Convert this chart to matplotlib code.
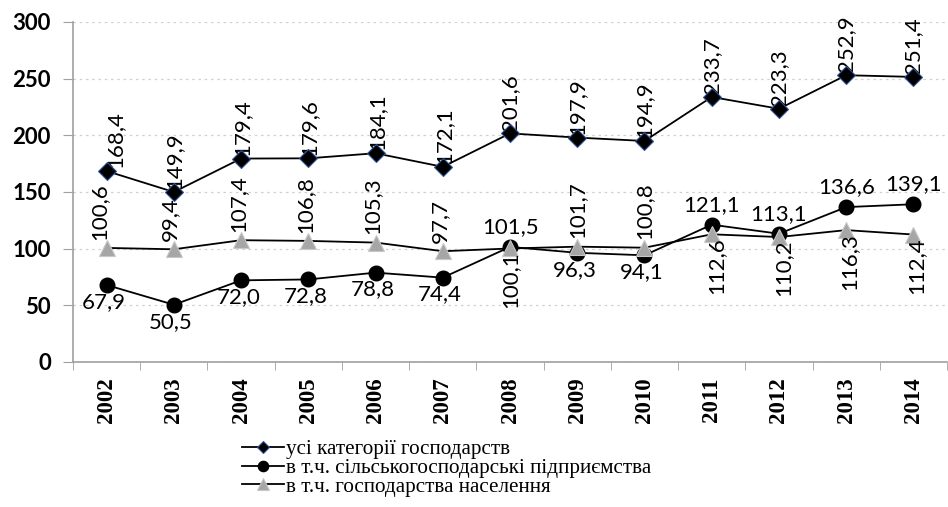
import numpy as np
import matplotlib.pyplot as plt
from matplotlib.ticker import MultipleLocator

# Дані з графіка
roky = ["2002", "2003", "2004", "2005", "2006", "2007", "2008",
        "2009", "2010", "2011", "2012", "2013", "2014"]
usi_kategorii = [168.4, 149.9, 179.4, 179.6, 184.1, 172.1, 201.6,
                 197.9, 194.9, 233.7, 223.3, 252.9, 251.4]
silhosp_pidpr = [67.9, 50.5, 72.0, 72.8, 78.8, 74.4, 101.5,
                 96.3, 94.1, 121.1, 113.1, 136.6, 139.1]
hosp_naselennia = [100.6, 99.4, 107.4, 106.8, 105.3, 97.7, 100.1,
                   101.7, 100.8, 112.6, 110.2, 116.3, 112.4]

nazvy = ["усі категорії господарств",
         "в т.ч. сільськогосподарські підприємства",
         "в т.ч. господарства населення"]

# Де стоять підписи: 1 - над точкою, -1 - під точкою
poz_pidpr = [-1, -1, -1, -1, -1, -1, 1, -1, -1, 1, 1, 1, 1]
poz_nasel = [1, 1, 1, 1, 1, 1, -1, 1, 1, -1, -1, -1, -1]
zsuv_x_usi = [6, 0, 1, 1, 1, 1, 0, 0, 0, 0, 0, 0, 0]
zsuv_x_nasel = [-5, -3, -2, -2, -2, -2, 0, 0, 0, 3, 3, 2, 2]

x = np.arange(len(roky))

def komu(v):
    return f"{v:.1f}".replace(".", ",")

fig = plt.figure(figsize=(9.48, 5.07), dpi=100)
ax = fig.add_axes([0.077, 0.286, 0.922, 0.671])

ax.plot(x, usi_kategorii, color="black", lw=1.3, marker="D", ms=9,
        mfc="black", mec="#2f5597", mew=0.8, label=nazvy[0], zorder=4)
ax.plot(x, silhosp_pidpr, color="black", lw=1.3, marker="o", ms=10.5,
        mfc="black", mec="black", label=nazvy[1], zorder=3)
ax.plot(x, hosp_naselennia, color="black", lw=1.3, marker="^", ms=11.5,
        mfc="#a6a6a6", mec="#c8c8c8", mew=0.8, label=nazvy[2], zorder=3)

shryft = dict(family="Lato", fontsize=16, color="black")

# Підписи значень
for i in range(len(x)):
    ax.annotate(komu(usi_kategorii[i]), (x[i], usi_kategorii[i]),
                xytext=(zsuv_x_usi[i], 2), textcoords="offset points",
                rotation=90, ha="center", va="bottom", **shryft)
    if poz_nasel[i] > 0:
        ax.annotate(komu(hosp_naselennia[i]), (x[i], hosp_naselennia[i]),
                    xytext=(zsuv_x_nasel[i], 6), textcoords="offset points",
                    rotation=90, ha="center", va="bottom", **shryft)
    else:
        ax.annotate(komu(hosp_naselennia[i]), (x[i], hosp_naselennia[i]),
                    xytext=(zsuv_x_nasel[i], -2), textcoords="offset points",
                    rotation=90, ha="center", va="top", **shryft)
    if poz_pidpr[i] > 0:
        ax.annotate(komu(silhosp_pidpr[i]), (x[i], silhosp_pidpr[i]),
                    xytext=(0, 7), textcoords="offset points",
                    ha="center", va="bottom", **shryft)
    else:
        ax.annotate(komu(silhosp_pidpr[i]), (x[i], silhosp_pidpr[i]),
                    xytext=(-2, -5), textcoords="offset points",
                    ha="center", va="top", **shryft)

# Осі
ax.set_xlim(-0.5, len(x) - 0.5)
ax.set_ylim(0, 300)
ax.yaxis.set_major_locator(MultipleLocator(50))
ax.grid(axis="y", color="#d0d0d0", ls=(0, (2, 3)), lw=0.9)
ax.set_axisbelow(True)

ax.set_xticks(x)
ax.set_xticklabels(roky, rotation=90, family="Liberation Serif",
                   fontweight="bold", fontsize=16.5)
ax.set_xticks(np.arange(len(x) + 1) - 0.5, minor=True)
ax.tick_params(axis="x", which="major", length=0, pad=11)
ax.tick_params(axis="x", which="minor", length=6, color="#a0a0a0", direction="out")
ax.tick_params(axis="y", length=7, color="#a0a0a0", pad=9)
for t in ax.get_yticklabels():
    t.set_family("Lato")
    t.set_fontweight("bold")
    t.set_fontsize(16)

for s in ["top", "right"]:
    ax.spines[s].set_visible(False)
ax.spines["left"].set_color("#a0a0a0")
ax.spines["bottom"].set_color("#a0a0a0")
ax.spines["left"].set_linewidth(1.2)
ax.spines["bottom"].set_linewidth(1.2)

# Легенда під графіком
fig.legend(loc="upper left", bbox_to_anchor=(0.255, 0.133),
           bbox_transform=fig.transFigure, frameon=False,
           prop=dict(family="Liberation Serif", size=15.2),
           handlelength=2.0, handletextpad=0.1, labelspacing=-0.05,
           borderpad=0, borderaxespad=0, markerscale=0.7)

fig.savefig("out.png", dpi=100)
